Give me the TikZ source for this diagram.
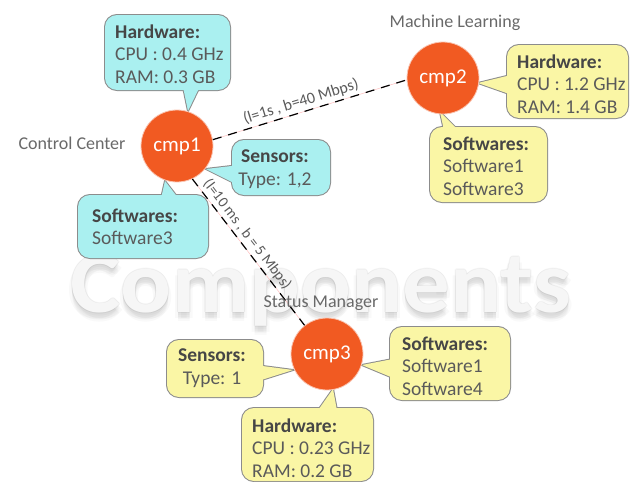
\documentclass[tikz,border=0pt]{standalone}
\usepackage{fontspec}
\setmainfont{Carlito}

\definecolor{orangered}{RGB}{241,90,34}
\definecolor{boxcyan}{RGB}{170,240,240}
\definecolor{boxyellow}{RGB}{250,246,165}
\definecolor{boxedge}{RGB}{140,140,140}
\definecolor{txtgray}{RGB}{90,90,90}
\definecolor{hdgray}{RGB}{70,70,70}
\definecolor{lblgray}{RGB}{105,105,105}
\definecolor{wmfill}{RGB}{246,246,246}

\tikzset{
  boxline/.style={draw=boxedge, line width=2pt},
  comp/.style={circle, fill=orangered, draw=orangered!35!white, line width=0.8pt,
    minimum size=72pt, inner sep=0pt, text=white, font=\fontsize{21}{21}\selectfont},
  boxtext/.style={font=\fontsize{19.5}{22.5}\selectfont, text=txtgray, inner sep=0pt,
    align=left, anchor=west},
  sensortext/.style={font=\fontsize{19.5}{22.5}\selectfont, text=txtgray, inner sep=0pt,
    align=center},
  place/.style={font=\fontsize{18}{18}\selectfont, text=lblgray, inner sep=0pt},
  linkbase/.style={draw=red!25, line width=0.5pt},
  link/.style={draw=black, line width=1.2pt, dash pattern=on 9pt off 7pt},
  linklabel/.style={sloped, above, text=txtgray, inner sep=2.5pt},
  wmark/.style={anchor=base, inner sep=0pt, font=\fontsize{88}{88}\selectfont\bfseries},
}

% rounded box with a pointed tail: fill, corner, corner, tail base, tail base, tail tip
% outlines are drawn wide first, then the fills cover their inner halves
\newcommand\callshape[6]{%
  \path[boxline, rounded corners=12pt] (#2) rectangle (#3);
  \path[boxline] (#4) -- (#6) -- (#5) -- cycle;
  \path[fill=#1, rounded corners=12pt] (#2) rectangle (#3);
  \path[fill=#1] (#4) -- (#6) -- (#5) -- cycle;}
\newcommand\hd[1]{\textcolor{hdgray}{\textbf{#1}}}
\newcommand\wmword{\scalebox{1.08}[1]{Components}}

\begin{document}
\begin{tikzpicture}[x=1pt, y=-1pt]
\useasboundingbox (0,0) rectangle (630,482);
\fill[white] (0,0) rectangle (630,482);

% watermark title: soft drop shadow, faint rim, pale face
\foreach \dx/\dy [count=\k] in {0/3, 0/5, 0/7, 0/9, -3/6, 3/6} {
  \node[wmark, text=black, opacity=0.025] (wmshade\k) at (321+\dx, 312+\dy) {\wmword};
}
\foreach \dx/\dy [count=\k] in {-1/0, 1/0, 0/-1, 0/1} {
  \node[wmark, text=black, opacity=0.045] (wmrim\k) at (321+\dx, 312+\dy) {\wmword};
}
\node[wmark, text=wmfill] (wm) at (321,312) {\wmword};

% callout boxes
\callshape{boxcyan}{105,15}{230,90}{182,82}{202,82}{188,111}
\callshape{boxcyan}{232,140}{330,195}{240,165}{240,186}{206,169}
\callshape{boxcyan}{78,195}{208,258}{160,203}{182,203}{165,181}
\callshape{boxyellow}{507,45}{628,118}{515,74}{515,96}{478,83}
\callshape{boxyellow}{430,127}{547,202}{445,135}{463,135}{440,112}
\callshape{boxyellow}{167,340}{263,397}{255,365}{255,382}{293,370}
\callshape{boxyellow}{390,327}{510,400}{398,358}{398,380}{362,365}
\callshape{boxyellow}{242,408}{373,481}{314,416}{338,416}{333,389}

% components
\node[comp] (cmp1) at (177,146) {cmp1};
\node[comp] (cmp2) at (443,78) {cmp2};
\node[comp] (cmp3) at (327,354) {cmp3};

% links
\draw[linkbase] (cmp1.10) -- (cmp2.183);
\draw[link] (cmp1.10) -- node[linklabel, pos=0.47, font=\fontsize{16}{16}\selectfont] (lbl12) {(l=1s , b=40 Mbps)} (cmp2.183);
\draw[linkbase] (cmp1.-65) -- (cmp3.128);
\draw[link] (cmp1.-65) -- node[linklabel, pos=0.42, font=\fontsize{15}{15}\selectfont] (lbl13) {(l=10 ms , b = 5 Mbps)} (cmp3.128);

% component names
\node[place] (lblcc) at (72,143) {Control Center};
\node[place] (lblml) at (455,23) {Machine Learning};
\node[place] (lblsm) at (321,303) {Status Manager};

% box texts
\node[boxtext] (hw1) at (115,54) {\hd{Hardware:}\\CPU : 0.4 GHz\\RAM: 0.3 GB};
\node[sensortext] (sn1) at (275,169) {\hd{Sensors:}\\Type: 1,2};
\node[boxtext] (sw1) at (92,227) {\hd{Softwares:}\\Software3};
\node[boxtext] (hw2) at (517,84) {\hd{Hardware:}\\CPU : 1.2 GHz\\RAM: 1.4 GB};
\node[boxtext] (sw2) at (443,166) {\hd{Softwares:}\\Software1\\Software3};
\node[sensortext] (sn3) at (212,368) {\hd{Sensors:}\\Type: 1};
\node[boxtext] (sw3) at (402,366) {\hd{Softwares:}\\Software1\\Software4};
\node[boxtext] (hw3) at (252,448) {\hd{Hardware:}\\CPU : 0.23 GHz\\RAM: 0.2 GB};
\end{tikzpicture}
\end{document}
